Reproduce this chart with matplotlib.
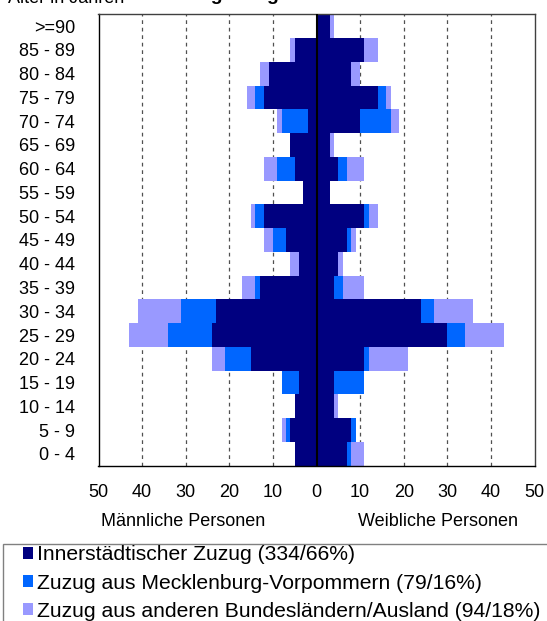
import matplotlib
matplotlib.use("Agg")
import matplotlib.pyplot as plt
from matplotlib.patches import Patch, Rectangle

plt.rcParams['font.family'] = ['Liberation Sans', 'DejaVu Sans']

# Age groups (bottom to top)
age_groups = ["0 - 4", "5 - 9", "10 - 14", "15 - 19", "20 - 24", "25 - 29", "30 - 34",
              "35 - 39", "40 - 44", "45 - 49", "50 - 54", "55 - 59", "60 - 64",
              "65 - 69", "70 - 74", "75 - 79", "80 - 84", "85 - 89", ">=90"]

# Male counts (bottom to top)
male_inner = [5, 6, 5, 4, 15, 24, 23, 13, 4, 7, 12, 3, 5, 6, 2, 12, 11, 5, 0]
male_mv    = [0, 1, 0, 4, 6, 10, 8, 1, 0, 3, 2, 0, 4, 0, 6, 2, 0, 0, 0]
male_other = [0, 1, 0, 0, 3, 9, 10, 3, 2, 2, 1, 0, 3, 0, 1, 2, 2, 1, 0]

# Female counts (bottom to top)
female_inner = [7, 8, 4, 4, 11, 30, 24, 4, 5, 7, 11, 3, 5, 3, 10, 14, 8, 11, 3]
female_mv    = [1, 1, 0, 7, 1, 4, 3, 2, 0, 1, 1, 0, 2, 0, 7, 2, 0, 0, 0]
female_other = [3, 0, 1, 0, 9, 9, 9, 5, 1, 1, 2, 0, 4, 1, 2, 1, 2, 3, 1]

series_labels = ["Innerstädtischer Zuzug (334/66%)",
                 "Zuzug aus Mecklenburg-Vorpommern (79/16%)",
                 "Zuzug aus anderen Bundesländern/Ausland (94/18%)"]
colors = ["#000080", "#0066FF", "#9999FF"]

x_ticks = [-50, -40, -30, -20, -10, 0, 10, 20, 30, 40, 50]

W, H = 547, 621
fig = plt.figure(figsize=(W / 100, H / 100), dpi=100)
ax = fig.add_axes([98.5 / W, (H - 465.7) / H, 436 / W, 451.4 / H])

y = list(range(len(age_groups)))

# male side (negative)
m1 = [-v for v in male_inner]
m2 = [-v for v in male_mv]
m3 = [-v for v in male_other]
ax.barh(y, m1, height=1.0, color=colors[0], zorder=2)
ax.barh(y, m2, left=m1, height=1.0, color=colors[1], zorder=2)
ax.barh(y, m3, left=[a + b for a, b in zip(m1, m2)], height=1.0, color=colors[2], zorder=2)

# female side
ax.barh(y, female_inner, height=1.0, color=colors[0], zorder=2)
ax.barh(y, female_mv, left=female_inner, height=1.0, color=colors[1], zorder=2)
ax.barh(y, female_other, left=[a + b for a, b in zip(female_inner, female_mv)],
        height=1.0, color=colors[2], zorder=2)

ax.axvline(0, color="black", lw=1.5, zorder=3)

ax.set_xlim(-50, 50)
ax.set_ylim(-0.5, len(age_groups) - 0.5)
ax.set_xticks(x_ticks)
ax.set_xticklabels([str(abs(t)) for t in x_ticks])
ax.set_yticks(y)
ax.set_yticklabels(age_groups)
ax.tick_params(axis="both", length=0, labelsize=13)
ax.tick_params(axis="y", pad=17)
ax.tick_params(axis="x", pad=13)

for t in x_ticks[1:-1]:
    if t != 0:
        ax.axvline(t, color="#505050", lw=0.9, ls=(0, (3, 3)), zorder=1)

for s in ax.spines.values():
    s.set_color("#404040")
    s.set_linewidth(1.0)
ax.spines["bottom"].set_color("black")
ax.spines["left"].set_color("black")

fig.text(183 / W, 1 - 521 / H, "Männliche Personen", ha="center", va="center", fontsize=13)
fig.text(438 / W, 1 - 521 / H, "Weibliche Personen", ha="center", va="center", fontsize=13)

# header texts, cut off at the top edge as in the reference
fig.text(8 / W, 1 - 3 / H, "Alter in Jahren", ha="left", va="baseline", fontsize=13)
fig.text(165 / W, 1 - 0.5 / H, "Zuzüge insgesamt", ha="left", va="baseline",
         fontsize=14, fontweight="bold")

# legend
frame = Rectangle((3.3 / W, -0.1), 1.2, 0.1 + 1 - 543.8 / H, transform=fig.transFigure,
                  facecolor="white", edgecolor="#808080", lw=1.0, zorder=0)
fig.add_artist(frame)
handles = [Patch(facecolor=c, edgecolor="none") for c in colors]
fig.legend(handles, series_labels, loc="upper left",
           bbox_to_anchor=(22.7 / W, 1 - 545.5 / H), bbox_transform=fig.transFigure,
           frameon=False, fontsize=15.2, handlelength=0.5, handleheight=0.5,
           handletextpad=0.19, labelspacing=0.43, borderpad=0, borderaxespad=0)

fig.savefig("out.png", dpi=100)
